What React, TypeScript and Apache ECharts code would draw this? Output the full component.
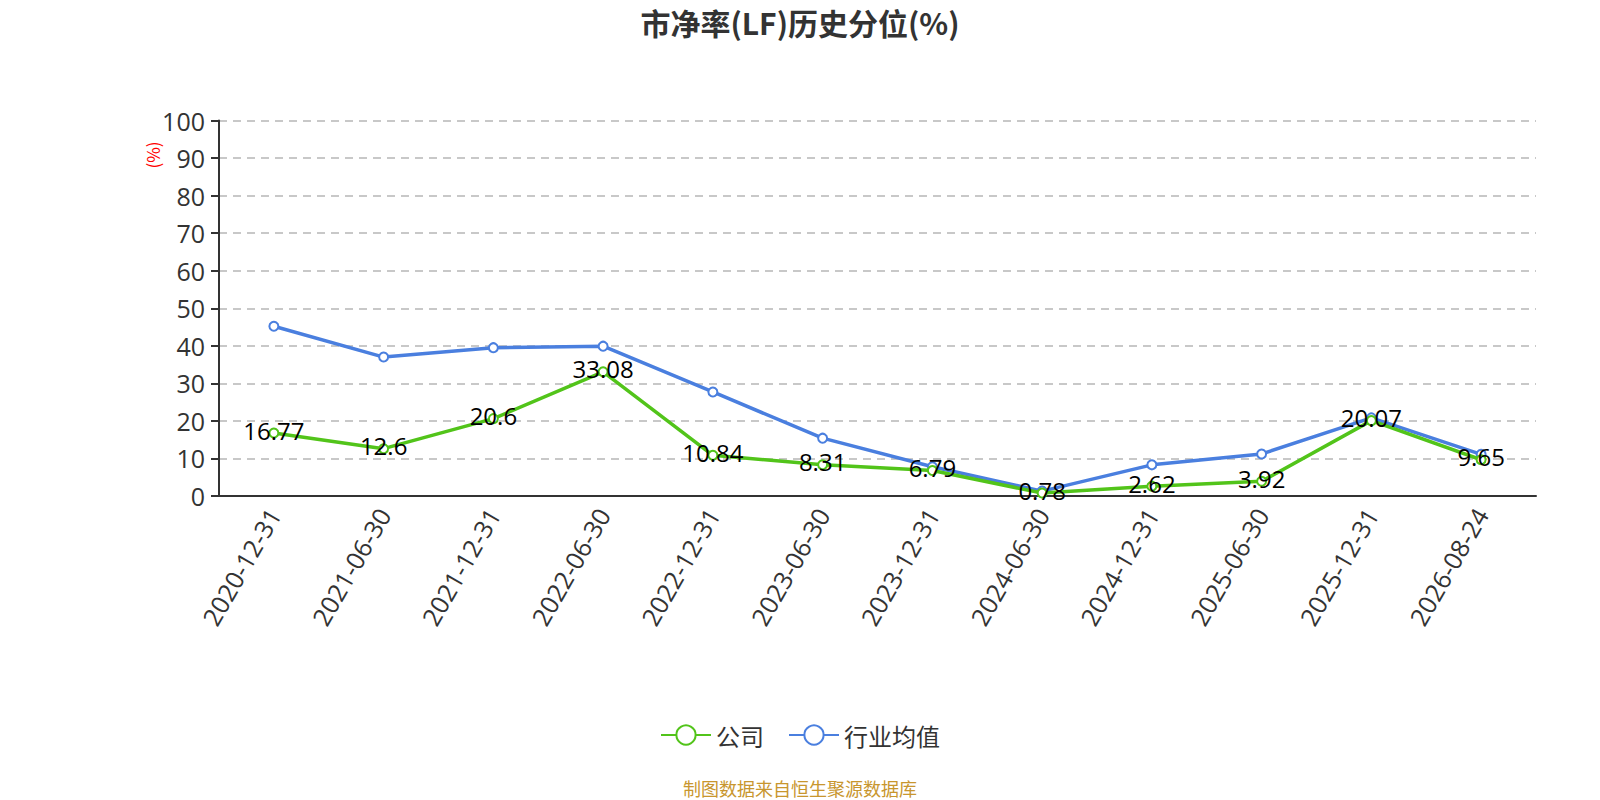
import React, { useEffect, useRef } from "react";
import * as echarts from "echarts";

const categories = [
  "2020-12-31", "2021-06-30", "2021-12-31", "2022-06-30", "2022-12-31", "2023-06-30",
  "2023-12-31", "2024-06-30", "2024-12-31", "2025-06-30", "2025-12-31", "2026-08-24",
];
const companyValues = [16.77, 12.6, 20.6, 33.08, 10.84, 8.31, 6.79, 0.78, 2.62, 3.92, 20.07, 9.65];
const industryValues = [45.2, 37.0, 39.5, 39.9, 27.7, 15.4, 7.8, 1.3, 8.3, 11.2, 20.8, 11.1];
const yTicks = { min: 0, max: 100, interval: 10 };

const FONT = "'Noto Sans CJK SC', 'Noto Sans', sans-serif";
const NUMFONT = "'Open Sans', 'Noto Sans CJK SC', sans-serif";

export default function App() {
  const ref = useRef<HTMLDivElement>(null);
  useEffect(() => {
    document.body.style.margin = "0";
    if (!ref.current) return;
    const chart = echarts.init(ref.current, null, { renderer: "svg" });
    chart.setOption({
      animation: false,
      textStyle: { fontFamily: FONT },
      title: {
        text: "市净率(LF)历史分位(%)",
        left: "center",
        top: 2,
        textStyle: { fontSize: 30, fontWeight: "bold", color: "#333", fontFamily: FONT },
      },
      grid: { left: 219, right: 64, top: 120.5, bottom: 304, containLabel: false },
      legend: {
        bottom: 48,
        left: "center",
        itemWidth: 50,
        itemHeight: 24,
        itemGap: 24,
        textStyle: { fontSize: 24, color: "#333", fontFamily: FONT },
        data: ["公司", "行业均值"],
      },
      graphic: [
        {
          type: "text",
          x: 152,
          y: 155,
          rotation: Math.PI / 2,
          style: {
            text: "(%)",
            fill: "red",
            fontSize: 17,
            fontFamily: FONT,
            align: "center",
            verticalAlign: "middle",
          },
        },
        {
          type: "text",
          left: "center",
          top: 779,
          style: {
            text: "制图数据来自恒生聚源数据库",
            fill: "#C8962E",
            fontSize: 18,
            fontFamily: FONT,
          },
        },
      ],
      xAxis: {
        type: "category",
        data: categories,
        boundaryGap: true,
        axisLine: { lineStyle: { color: "#333", width: 2 } },
        axisTick: { alignWithLabel: false, length: 8, lineStyle: { color: "#333", width: 2 } },
        axisLabel: { rotate: 60, fontSize: 25, color: "#333", margin: 14, interval: 0, fontFamily: NUMFONT },
      },
      yAxis: {
        type: "value",
        min: yTicks.min,
        max: yTicks.max,
        interval: yTicks.interval,
        axisLine: { show: true, lineStyle: { color: "#333", width: 2 } },
        axisTick: { show: true, length: 8, lineStyle: { color: "#333", width: 2 } },
        axisLabel: { fontSize: 25, color: "#333", margin: 14, fontFamily: NUMFONT },
        splitLine: { lineStyle: { type: [8, 6], color: "#c8c8c8", width: 2 } },
      },
      series: [
        {
          name: "公司",
          type: "line",
          data: companyValues,
          symbol: "emptyCircle",
          symbolSize: 9,
          itemStyle: { color: "#52C41A", borderWidth: 2 },
          lineStyle: { width: 3.5, color: "#52C41A" },
          label: {
            show: true,
            position: "inside",
            offset: [0, -3],
            fontSize: 24,
            color: "#000",
            fontFamily: NUMFONT,
          },
          z: 3,
        },
        {
          name: "行业均值",
          type: "line",
          data: industryValues,
          symbol: "emptyCircle",
          symbolSize: 9,
          itemStyle: { color: "#4A7FDF", borderWidth: 2 },
          lineStyle: { width: 3.5, color: "#4A7FDF" },
          z: 2,
        },
      ],
    });
    return () => chart.dispose();
  }, []);
  return <div ref={ref} style={{ width: 1600, height: 800 }} />;
}
